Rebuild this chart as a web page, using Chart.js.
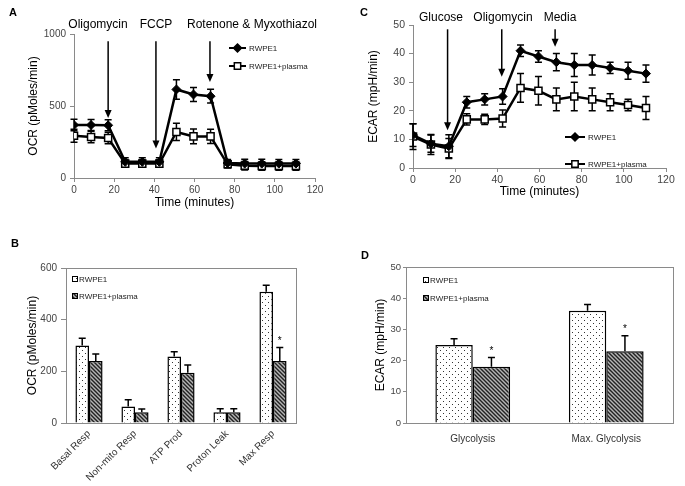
<!DOCTYPE html>
<html><head><meta charset="utf-8">
<script src="https://cdn.jsdelivr.net/npm/chart.js@4.4.1/dist/chart.umd.min.js"></script>
<style>
body{margin:0;background:#fff;width:685px;height:486px;position:relative;overflow:hidden;font-family:"Liberation Sans",Arial,sans-serif;}
canvas{position:absolute;display:block;}
.lbl{position:absolute;font-size:12px;line-height:14px;color:#000;white-space:nowrap;transform:translateX(-50%);}
.pl{position:absolute;font-weight:bold;font-size:11px;line-height:11px;color:#000;}
</style></head><body>
<canvas id="cA" width="340" height="215" style="left:0;top:0"></canvas>
<canvas id="cC" width="345" height="215" style="left:340px;top:0"></canvas>
<canvas id="cB" width="340" height="266" style="left:0;top:220px"></canvas>
<canvas id="cD" width="345" height="266" style="left:340px;top:220px"></canvas>

<div class="pl" style="left:9px;top:7px">A</div>
<div class="pl" style="left:360px;top:7px">C</div>
<div class="pl" style="left:11px;top:238px">B</div>
<div class="pl" style="left:361px;top:250px">D</div>

<div class="lbl" style="left:98px;top:17px">Oligomycin</div>
<div class="lbl" style="left:156px;top:17px">FCCP</div>
<div class="lbl" style="left:252px;top:17px">Rotenone &amp; Myxothiazol</div>
<div class="lbl" style="left:441px;top:10px">Glucose</div>
<div class="lbl" style="left:503px;top:10px">Oligomycin</div>
<div class="lbl" style="left:560px;top:10px">Media</div>

<script>
// ---------- DATA ----------
const timePoints = [0, 8.5, 17, 25.5, 34, 42.5, 51, 59.5, 68, 76.5, 85, 93.5, 102, 110.5];
const seriesNames = ['RWPE1', 'RWPE1+plasma'];

const ocrRwpe1      = [368, 368, 366, 112, 112, 112, 615, 580, 568, 104, 100, 100, 100, 100];
const ocrRwpe1Err   = [40, 38, 38, 28, 28, 28, 68, 48, 48, 25, 30, 30, 28, 28];
const ocrPlasma     = [294, 285, 278, 100, 100, 100, 320, 289, 289, 95, 85, 83, 83, 83];
const ocrPlasmaErr  = [45, 40, 40, 25, 25, 25, 60, 52, 50, 25, 30, 30, 30, 30];

const ecarRwpe1     = [11.5, 8.5, 7.6, 23, 24, 25, 41, 39, 37, 36, 36, 35, 34, 33];
const ecarRwpe1Err  = [4, 3, 4, 2, 2, 2.7, 2, 2, 3, 4, 3.5, 2, 3, 3];
const ecarPlasma    = [11, 8.2, 6.8, 17, 17, 17.3, 28, 27, 24, 25, 24, 23, 22, 21];
const ecarPlasmaErr = [4.5, 3.5, 3.5, 2, 1.8, 3, 5, 5, 4, 5, 4, 3, 2, 4];

const ocrArrows  = [{x: 17, from: 949, to: 417}, {x: 40.8, from: 949, to: 205}, {x: 67.7, from: 949, to: 667}];
const ecarArrows = [{x: 16.4, from: 48.5, to: 13.2}, {x: 42.1, from: 48.5, to: 31.9}, {x: 67.4, from: 48.5, to: 42.4}];

const respCategories  = ['Basal Resp', 'Non-mito Resp', 'ATP Prod', 'Proton Leak', 'Max Resp'];
const respRwpe1       = [300, 64, 257, 42, 508];
const respRwpe1Err    = [28, 26, 19, 13, 25];
const respPlasma      = [240, 42, 195, 42, 240];
const respPlasmaErr   = [27, 12, 30, 13, 52];
const respPlasmaStar  = [false, false, false, false, true];

const glyCategories   = ['Glycolysis', 'Max. Glycolysis'];
const glyRwpe1        = [25, 36];
const glyRwpe1Err     = [2, 2];
const glyPlasma       = [18, 23];
const glyPlasmaErr    = [3, 5];
const glyPlasmaStar   = [true, true];

// ---------- STYLE HELPERS ----------
Chart.defaults.font.family = '"Liberation Sans", Arial, sans-serif';
Chart.defaults.animation = false;

function dotPattern() {
  const c = document.createElement('canvas'); c.width = 6; c.height = 6;
  const g = c.getContext('2d');
  g.fillStyle = '#fff'; g.fillRect(0, 0, 6, 6);
  g.fillStyle = '#333'; g.fillRect(1, 1, 1, 1); g.fillRect(4, 4, 1, 1);
  return g.createPattern(c, 'repeat');
}
function hatchPattern() {
  const s = 4;
  const c = document.createElement('canvas'); c.width = s; c.height = s;
  const g = c.getContext('2d');
  g.fillStyle = '#b5b5b5'; g.fillRect(0, 0, s, s);
  g.strokeStyle = '#222'; g.lineWidth = 1.4;
  g.beginPath();
  g.moveTo(-1, -1); g.lineTo(s + 1, s + 1);
  g.moveTo(-1, s - 1); g.lineTo(1, s + 1);
  g.moveTo(s - 1, -1); g.lineTo(s + 1, 1);
  g.stroke();
  return g.createPattern(c, 'repeat');
}
const DOTS = dotPattern();
const HATCH = hatchPattern();

function drawMarker(ctx, style, r, x, y, fill) {
  ctx.save();
  ctx.fillStyle = fill; ctx.strokeStyle = '#000'; ctx.lineWidth = 1.5;
  ctx.beginPath();
  if (style === 'rectRot') {
    ctx.moveTo(x, y - r); ctx.lineTo(x + r, y); ctx.lineTo(x, y + r); ctx.lineTo(x - r, y); ctx.closePath();
  } else {
    const h = r * Math.SQRT1_2; ctx.rect(x - h, y - h, 2 * h, 2 * h);
  }
  ctx.fill(); ctx.stroke();
  ctx.restore();
}

// error bars: both directions for lines (drawn beneath markers), up only for bars
const errorBars = {
  id: 'errorBars',
  beforeDatasetsDraw(chart, a, o) { if (!o.upOnly) draw(chart, o); },
  afterDatasetsDraw(chart, a, o) { if (o.upOnly) draw(chart, o); }
};
function draw(chart, o) {
  const ctx = chart.ctx, ys = chart.scales.y, cap = o.cap || 3;
  chart.data.datasets.forEach((ds, di) => {
    if (!ds.errors) return;
    const meta = chart.getDatasetMeta(di);
    ctx.save(); ctx.strokeStyle = '#000'; ctx.lineWidth = o.width || 1.5;
    meta.data.forEach((el, i) => {
      const d = ds.data[i]; const v = (typeof d === 'object') ? d.y : d;
      const e = ds.errors[i];
      const x = el.x;
      const t = ys.getPixelForValue(v + e);
      const b = o.upOnly ? ys.getPixelForValue(v) : ys.getPixelForValue(v - e);
      ctx.beginPath();
      ctx.moveTo(x, t); ctx.lineTo(x, b);
      ctx.moveTo(x - cap, t); ctx.lineTo(x + cap, t);
      if (!o.upOnly) { ctx.moveTo(x - cap, b); ctx.lineTo(x + cap, b); }
      ctx.stroke();
      if (ds.stars && ds.stars[i]) {
        ctx.fillStyle = '#000'; ctx.font = '10px "Liberation Sans", Arial, sans-serif';
        ctx.textAlign = 'center'; ctx.textBaseline = 'alphabetic';
        ctx.fillText('*', x, t - 3.5);
      }
    });
    ctx.restore();
  });
}

const arrows = {
  id: 'arrows',
  afterDatasetsDraw(chart, a, o) {
    if (!o.items) return;
    const ctx = chart.ctx, xs = chart.scales.x, ys = chart.scales.y;
    ctx.save(); ctx.strokeStyle = '#000'; ctx.fillStyle = '#000'; ctx.lineWidth = 1.5;
    o.items.forEach(it => {
      const x = xs.getPixelForValue(it.x);
      const y1 = ys.getPixelForValue(it.from), y2 = ys.getPixelForValue(it.to);
      const hl = 8, hw = 3.5;
      ctx.beginPath(); ctx.moveTo(x, y1); ctx.lineTo(x, y2 - hl + 1); ctx.stroke();
      ctx.beginPath(); ctx.moveTo(x - hw, y2 - hl); ctx.lineTo(x + hw, y2 - hl); ctx.lineTo(x, y2); ctx.closePath(); ctx.fill();
    });
    ctx.restore();
  }
};

const miniLegend = {
  id: 'miniLegend',
  afterDraw(chart, a, o) {
    if (o.x === undefined) return;
    const ctx = chart.ctx;
    ctx.save();
    ctx.font = '8px "Liberation Sans", Arial, sans-serif';
    ctx.textBaseline = 'middle'; ctx.textAlign = 'left';
    chart.data.datasets.forEach((ds, i) => {
      const y = o.y + i * o.gap;
      if (o.kind === 'line') {
        ctx.strokeStyle = '#000'; ctx.lineWidth = 2;
        ctx.beginPath(); ctx.moveTo(o.x, y); ctx.lineTo(o.x + o.len, y); ctx.stroke();
        drawMarker(ctx, ds.pointStyle, ds.pointRadius - 0.5, o.x + o.len / 2, y, ds.pointBackgroundColor);
        ctx.fillStyle = '#222';
        ctx.fillText(ds.label, o.x + o.len + 3, y + 0.5);
      } else {
        ctx.fillStyle = ds.backgroundColor; ctx.strokeStyle = '#000'; ctx.lineWidth = 1;
        ctx.fillRect(o.x, y - 3, 6, 6); ctx.strokeRect(o.x + 0.5, y - 2.5, 5, 5);
        ctx.fillStyle = '#222';
        ctx.fillText(ds.label, o.x + 7, y + 0.5);
      }
    });
    ctx.restore();
  }
};

const boxFrame = {
  id: 'boxFrame',
  afterDraw(chart, a, o) {
    if (!o.show) return;
    const {left, top, right, bottom} = chart.chartArea, ctx = chart.ctx;
    ctx.save(); ctx.strokeStyle = '#8a8a8a'; ctx.lineWidth = 1;
    ctx.strokeRect(Math.round(left) + 0.5, Math.round(top) + 0.5, Math.round(right - left), Math.round(bottom - top));
    ctx.restore();
  }
};

Chart.register(errorBars, arrows, miniLegend, boxFrame);

const AX = '#8a8a8a', TK = '#444';
const plain = v => String(v);

function points(vals) { return vals.map((v, i) => ({x: timePoints[i], y: v})); }

function lineChart(id, s1, e1, s2, e2, yMax, yStep, yTitle, arrowItems, pad, yWidth, xHeight, yTitlePad, xTitlePad, tickSize, legendPos) {
  return new Chart(document.getElementById(id), {
    type: 'line',
    data: {
      datasets: [
        {label: seriesNames[0], data: points(s1), errors: e1, borderColor: '#000', borderWidth: 2.5,
         pointStyle: 'rectRot', pointRadius: 4.5, pointBackgroundColor: '#000', pointBorderColor: '#000', pointBorderWidth: 1, tension: 0},
        {label: seriesNames[1], data: points(s2), errors: e2, borderColor: '#000', borderWidth: 2.5,
         pointStyle: 'rect', pointRadius: 5, pointBackgroundColor: '#fff', pointBorderColor: '#000', pointBorderWidth: 1.5, tension: 0}
      ]
    },
    options: {
      responsive: false, animation: false,
      layout: {padding: pad},
      plugins: {legend: {display: false}, tooltip: {enabled: false},
        errorBars: {cap: 3.5, width: 1.5}, arrows: {items: arrowItems}, miniLegend: legendPos},
      scales: {
        x: {type: 'linear', min: 0, max: 120,
            ticks: {stepSize: 20, color: TK, font: {size: tickSize}, padding: 2, callback: plain},
            grid: {drawOnChartArea: false, tickLength: 4, color: AX}, border: {color: AX},
            title: {display: true, text: 'Time (minutes)', color: '#000', font: {size: 12}, padding: {top: 0, bottom: xTitlePad}},
            afterFit(s) { s.height = xHeight; }},
        y: {min: 0, max: yMax,
            ticks: {stepSize: yStep, color: TK, font: {size: tickSize}, padding: 4, callback: plain},
            grid: {drawOnChartArea: false, tickLength: 4, color: AX}, border: {color: AX},
            title: {display: true, text: yTitle, color: '#000', font: {size: 12}, padding: {top: yTitlePad, bottom: 0}},
            afterFit(s) { s.width = yWidth; }}
      }
    }
  });
}

function barChart(id, cats, s1, e1, s2, e2, stars, yMax, yStep, yTitle, pad, yWidth, xHeight, yTitlePad, rot, catPct, legendPos, xTickPad, yTickSize, yTickLen, yTickPad) {
  return new Chart(document.getElementById(id), {
    type: 'bar',
    data: {
      labels: cats,
      datasets: [
        {label: seriesNames[0], data: s1, errors: e1, backgroundColor: DOTS, borderColor: '#000', borderWidth: 1.5,
         categoryPercentage: catPct, barPercentage: 1},
        {label: seriesNames[1], data: s2, errors: e2, stars: stars, backgroundColor: HATCH, borderColor: '#000', borderWidth: 1.5,
         categoryPercentage: catPct, barPercentage: 1}
      ]
    },
    options: {
      responsive: false, animation: false,
      layout: {padding: pad},
      plugins: {legend: {display: false}, tooltip: {enabled: false},
        errorBars: {upOnly: true, cap: 3.5, width: 1.5}, miniLegend: legendPos, boxFrame: {show: true}},
      scales: {
        x: {ticks: {color: '#333', font: {size: 10}, padding: xTickPad, autoSkip: false, minRotation: rot, maxRotation: rot},
            grid: {display: false, drawTicks: false}, border: {color: AX},
            afterFit(s) { s.height = xHeight; }},
        y: {min: 0, max: yMax,
            ticks: {stepSize: yStep, color: TK, font: {size: yTickSize}, padding: yTickPad, callback: plain},
            grid: {drawOnChartArea: false, tickLength: yTickLen, color: AX}, border: {color: AX},
            title: {display: true, text: yTitle, color: '#000', font: {size: 12}, padding: {top: yTitlePad, bottom: 0}},
            afterFit(s) { s.width = yWidth; }}
      }
    }
  });
}

lineChart('cA', ocrRwpe1, ocrRwpe1Err, ocrPlasma, ocrPlasmaErr, 1000, 500, 'OCR (pMoles/min)', ocrArrows,
  {left: 0, right: 25, top: 34, bottom: 0}, 74, 37, 26, 5, 10, {kind: 'line', x: 229, y: 48, gap: 18, len: 17});
lineChart('cC', ecarRwpe1, ecarRwpe1Err, ecarPlasma, ecarPlasmaErr, 50, 10, 'ECAR (mpH/min)', ecarArrows,
  {left: 0, right: 19, top: 25, bottom: 0}, 73, 47, 26, 16, 10.5, {kind: 'line', x: 225, y: 137, gap: 27, len: 20});
barChart('cB', respCategories, respRwpe1, respRwpe1Err, respPlasma, respPlasmaErr, respPlasmaStar, 600, 200, 'OCR (pMoles/min)',
  {left: 0, right: 44, top: 48, bottom: 0}, 66, 63, 25, 45, 0.59, {kind: 'bar', x: 72, y: 59, gap: 17}, 5, 10, 5, 4);
barChart('cD', glyCategories, glyRwpe1, glyRwpe1Err, glyPlasma, glyPlasmaErr, glyPlasmaStar, 50, 10, 'ECAR (mpH/min)',
  {left: 0, right: 12, top: 47, bottom: 0}, 66, 63, 33, 0, 0.56, {kind: 'bar', x: 83, y: 60, gap: 18}, 10, 9.5, 3, 2);
</script>
</body></html>
